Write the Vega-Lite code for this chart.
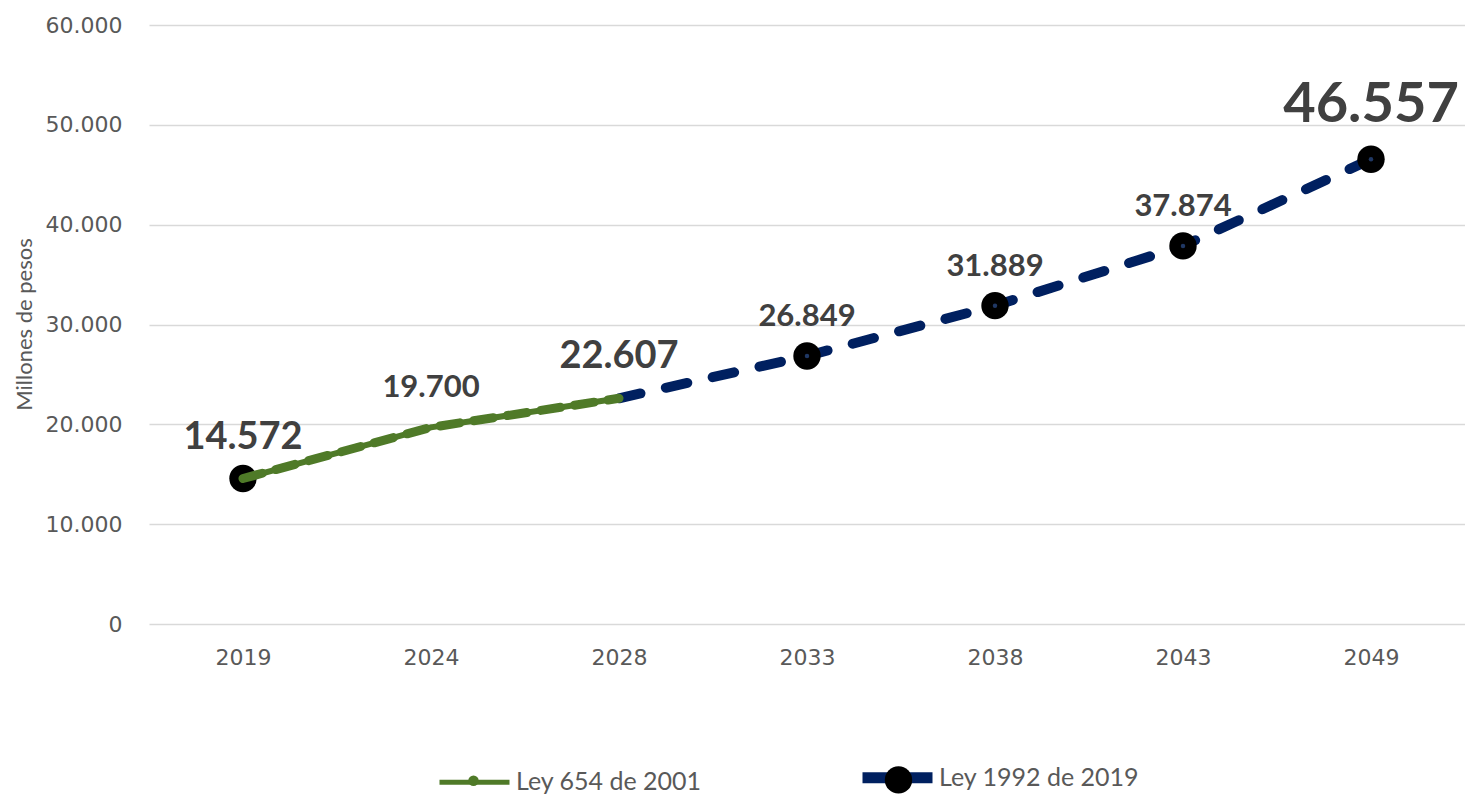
{
  "$schema": "https://vega.github.io/schema/vega-lite/v6.json",
  "width": 1316,
  "height": 599,
  "autosize": {"type": "none"},
  "padding": {"left": 149, "top": 25, "right": 0, "bottom": 171},
  "config": {
    "locale": {"number": {"decimal": ",", "thousands": ".", "grouping": [3], "currency": ["$", ""]}},
    "view": {"stroke": null},
    "legend": {
      "title": null,
      "direction": "horizontal",
      "labelFont": "Lato",
      "labelFontSize": 25,
      "labelColor": "#595959",
      "labelOffset": 7,
      "labelLimit": 400
    }
  },
  "datasets": {
    "ley654": [
      {"year": "2019", "value": 14572, "serie": "Ley 654 de 2001"},
      {"year": "2024", "value": 19700, "serie": "Ley 654 de 2001"},
      {"year": "2028", "value": 22607, "serie": "Ley 654 de 2001"}
    ],
    "ley1992": [
      {"year": "2028", "value": 22607, "serie": "Ley 1992 de 2019"},
      {"year": "2033", "value": 26849, "serie": "Ley 1992 de 2019"},
      {"year": "2038", "value": 31889, "serie": "Ley 1992 de 2019"},
      {"year": "2043", "value": 37874, "serie": "Ley 1992 de 2019"},
      {"year": "2049", "value": 46557, "serie": "Ley 1992 de 2019"}
    ],
    "marcadores": [
      {"year": "2019", "value": 14572, "ley": "Ley 1992 de 2019 "},
      {"year": "2033", "value": 26849, "ley": "Ley 1992 de 2019 "},
      {"year": "2038", "value": 31889, "ley": "Ley 1992 de 2019 "},
      {"year": "2043", "value": 37874, "ley": "Ley 1992 de 2019 "},
      {"year": "2049", "value": 46557, "ley": "Ley 1992 de 2019 "}
    ],
    "etiquetas": [
      {"year": "2019", "value": 14572},
      {"year": "2024", "value": 19700},
      {"year": "2028", "value": 22607},
      {"year": "2033", "value": 26849},
      {"year": "2038", "value": 31889},
      {"year": "2043", "value": 37874},
      {"year": "2049", "value": 46557}
    ]
  },
  "encoding": {
    "x": {
      "field": "year", "type": "ordinal",
      "scale": {"type": "point", "padding": 0.5, "domain": ["2019", "2024", "2028", "2033", "2038", "2043", "2049"]},
      "axis": {
        "title": null, "domain": false, "ticks": false, "grid": false, "labelAngle": 0,
        "labelPadding": 23, "labelFont": "DejaVu Sans", "labelFontSize": 22, "labelColor": "#595959"
      }
    },
    "y": {
      "field": "value", "type": "quantitative",
      "scale": {"domain": [0, 60000], "nice": false},
      "axis": {
        "values": [0, 10000, 20000, 30000, 40000, 50000, 60000],
        "format": ",d",
        "domain": false, "ticks": false,
        "grid": true, "gridColor": "#d9d9d9", "gridWidth": 1.5,
        "labelPadding": 27, "labelFont": "DejaVu Sans", "labelFontSize": 22, "labelColor": "#595959",
        "title": "Millones de pesos", "titleFont": "Lato", "titleFontWeight": "normal", "titleFontSize": 22,
        "titleColor": "#595959", "titleAngle": -90, "titleX": -125, "titleY": 299, "titleAlign": "center", "titleBaseline": "middle"
      }
    }
  },
  "layer": [
    {
      "data": {"name": "ley1992"},
      "mark": {"type": "line", "strokeWidth": 10, "strokeDash": [22, 26], "strokeCap": "round"},
      "encoding": {
        "color": {
          "field": "serie", "type": "nominal",
          "scale": {"domain": ["Ley 654 de 2001", "Ley 1992 de 2019"], "range": ["#4f7a28", "#002060"]},
          "legend": {
            "orient": "none", "legendX": 313, "legendY": 740, "symbolType": "stroke", "symbolSize": 4900,
            "columnPadding": 138, "labelOffset": 29,
            "encode": {"symbols": {"update": {
              "shape": {"value": "stroke"},
              "size": {"value": 4900},
              "strokeWidth": {"signal": "datum.value === 'Ley 1992 de 2019' ? 11 : 5"},
              "strokeDash": {"value": []},
              "opacity": {"value": 1}
            }}}
          }
        }
      }
    },
    {
      "data": {"name": "marcadores"},
      "mark": {"type": "point", "filled": true, "opacity": 1, "strokeWidth": 0},
      "encoding": {
        "fill": {
          "field": "ley", "type": "nominal",
          "scale": {"domain": ["Ley 654 de 2001 ", "Ley 1992 de 2019 "], "range": ["#4f7a28", "black"]},
          "legend": {
            "orient": "none", "legendX": 312, "legendY": 740, "columnPadding": 388,
            "symbolType": "circle", "labelExpr": "''"
          }
        },
        "size": {
          "field": "ley", "type": "ordinal",
          "scale": {"domain": ["Ley 654 de 2001 ", "Ley 1992 de 2019 "], "range": [110, 750]},
          "legend": {
            "orient": "none", "legendX": 312, "legendY": 740, "columnPadding": 388,
            "symbolType": "circle", "labelExpr": "''"
          }
        }
      }
    },
    {
      "data": {"name": "marcadores"},
      "mark": {"type": "point", "filled": true, "color": "#203864", "size": 20, "opacity": 1}
    },
    {
      "data": {"name": "ley654"},
      "mark": {"type": "line", "strokeWidth": 6, "strokeCap": "round"},
      "encoding": {"color": {"field": "serie", "type": "nominal"}}
    },
    {
      "data": {"name": "ley654"},
      "mark": {"type": "line", "strokeWidth": 9, "strokeDash": [20, 14], "strokeCap": "round"},
      "encoding": {"color": {"field": "serie", "type": "nominal"}}
    },
    {
      "data": {"name": "ley654"},
      "mark": {"type": "point", "filled": true, "color": "#4f7a28", "size": 25, "opacity": 1}
    },
    {
      "data": {"name": "etiquetas"},
      "transform": [{"filter": "datum.year === '2024' || datum.year === '2033' || datum.year === '2038' || datum.year === '2043'"}],
      "mark": {"type": "text", "font": "Lato", "fontWeight": "bold", "fontSize": 31, "color": "#404040", "align": "center", "baseline": "alphabetic", "dy": -30},
      "encoding": {"text": {"field": "value", "type": "quantitative", "format": ",d"}}
    },
    {
      "data": {"name": "etiquetas"},
      "transform": [{"filter": "datum.year === '2019' || datum.year === '2028'"}],
      "mark": {"type": "text", "font": "Lato", "fontWeight": "bold", "fontSize": 38, "color": "#404040", "align": "center", "baseline": "alphabetic", "dy": -30},
      "encoding": {"text": {"field": "value", "type": "quantitative", "format": ",d"}}
    },
    {
      "data": {"name": "etiquetas"},
      "transform": [{"filter": "datum.year === '2049'"}],
      "mark": {"type": "text", "font": "Lato", "fontWeight": "bold", "fontSize": 56, "color": "#404040", "align": "center", "baseline": "alphabetic", "dy": -37},
      "encoding": {"text": {"field": "value", "type": "quantitative", "format": ",d"}}
    }
  ]
}
